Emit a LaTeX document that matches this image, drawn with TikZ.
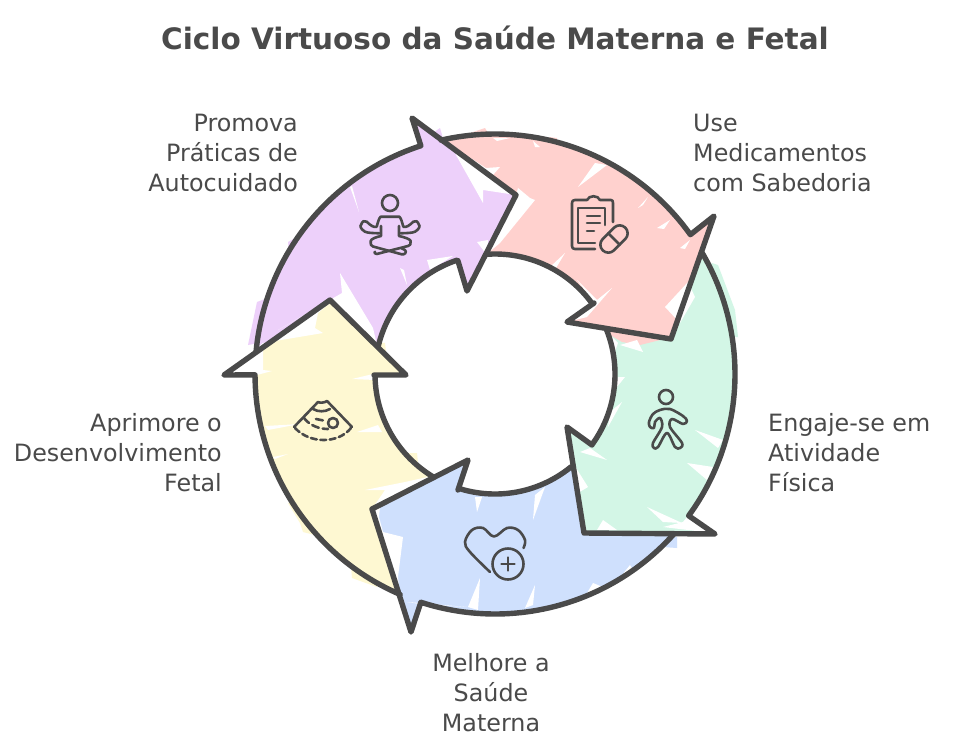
\documentclass[tikz,border=0pt]{standalone}
\usepackage{fontspec}
\setmainfont{DejaVu Sans}
\definecolor{ink}{HTML}{4A4A4A}
\definecolor{fpurple}{HTML}{EDD0FA}
\definecolor{fred}{HTML}{FFD1CE}
\definecolor{fgreen}{HTML}{D3F6E6}
\definecolor{fblue}{HTML}{CFE0FD}
\definecolor{fyellow}{HTML}{FEF8D2}
\newcommand{\Oarc}[2]{plot[domain=#1:#2,samples=50] ({495+240*cos(\x)},{374+240*sin(\x)})}
\newcommand{\Iarc}[2]{-- plot[domain=#1:#2,samples=50] ({495+120*cos(\x)},{374+120*sin(\x)})}
\tikzset{
  x=1pt,y=-1pt,
  outline/.style={draw=ink,line width=5.4pt,line join=round,line cap=round},
  icon/.style={draw=ink,line width=2.6pt,line join=round,line cap=round},
  label/.style={text=ink,inner sep=0pt,font=\fontsize{23.8pt}{30pt}\selectfont},
  heading/.style={text=ink,inner sep=0pt,font=\fontsize{29.5pt}{30pt}\selectfont\bfseries},
  gap/.style={fill=white},
  parrow/.style={insert path={\Oarc{185.5}{252} -- (412,118) -- (516,195) -- (467,291) -- (458,261) \Iarc{251.7}{193.3}}},
  rarrow/.style={insert path={\Oarc{257}{324.5} -- (714,216) -- (671,339) -- (567,322) -- (594,303) \Iarc{324.4}{265.7}}},
  garrow/.style={insert path={\Oarc{329.7}{396.2} -- (715,534) -- (584,533) -- (567,427) -- (592,445) \Iarc{396.2}{338.2}}},
  barrow/.style={insert path={\Oarc{42}{108} -- (411,632) -- (372,509) -- (468,460) -- (458,490) \Iarc{107.7}{50.7}}},
  yarrow/.style={insert path={\Oarc{113.3}{179.8} -- (224,375) -- (330,300) -- (406,375) -- (374,375) \Iarc{179.5}{121.5}}},
}
\begin{document}
\begin{tikzpicture}
\useasboundingbox (0,0) rectangle (960,750);
\fill[white] (0,0) rectangle (960,750);

% colour patches overflowing the outlines
\fill[fpurple] (248,345) -- (257,302) -- (270,297) -- (275,340) -- cycle;
\fill[fpurple] (288,242) -- (295,238) -- (300,260) -- (290,262) -- cycle;
\fill[fpurple] (427,137) -- (440,128) -- (445,145) -- (430,150) -- cycle;
\fill[fpurple] (503,227) -- (498,243) -- (480,240) -- (490,215) -- cycle;
\fill[fred] (470,133) -- (485,128) -- (492,140) -- (475,142) -- cycle;
\fill[fred] (549,137) -- (557,138) -- (557,146) -- cycle;
\fill[fgreen] (712,263) -- (718,265) -- (735,310) -- (738,337) -- (720,337) -- (700,280) -- cycle;
\fill[fgreen] (590,520) -- (587,540) -- (600,536) -- cycle;
\fill[fgreen] (612,535) -- (650,540) -- (660,535) -- cycle;
\fill[fblue] (409,480) -- (420,477) -- (440,490) -- (415,498) -- cycle;
\fill[fblue] (677,537) -- (677,548) -- (663,547) -- (660,535) -- cycle;
\fill[fblue] (553,483) -- (575,490) -- (570,500) -- (545,495) -- cycle;
\fill[fyellow] (351,322) -- (367,323) -- (364,342) -- (385,343) -- (388,370) -- (360,370) -- cycle;
\fill[fyellow] (393,453) -- (417,453) -- (419,473) -- (400,480) -- cycle;
\fill[fyellow] (288,503) -- (300,523) -- (303,532) -- (323,537) -- (310,500) -- cycle;
\fill[fyellow] (351,567) -- (352,578) -- (377,587) -- (385,570) -- cycle;

% arrow bodies
\path[parrow,fill=fpurple] -- (330,300) -- cycle;
\path[yarrow,fill=fyellow] -- (372,509) -- cycle;
\path[barrow,fill=fblue] -- (584,533) -- cycle;
\path[garrow,fill=fgreen] -- (671,339) -- cycle;
\path[rarrow,fill=fred] -- (516,195) -- cycle;
\fill[fred] (605,332) -- (622,342) -- (640,345) -- (672,337) -- (660,325) -- cycle;

% hachure gaps: purple
\fill[gap] (450,143) -- (516,195) -- (483,190) -- (483,203) -- (456,155) -- cycle;
\fill[gap] (278,330) -- (342,293) -- (340,273) -- (373,328) -- (377,345) -- (330,300) -- cycle;
\fill[gap] (477,242) -- (488,240) -- (487,255) -- cycle;
\fill[gap] (427,260) -- (453,256) -- (430,270) -- cycle;
\fill[gap] (400,268) -- (407,285) -- (404,270) -- cycle;
\fill[gap] (350,187) -- (359,212) -- (352,186) -- cycle;
\fill[gap] (278,235) -- (290,227) -- (290,232) -- cycle;
% red
\fill[gap] (578,187) -- (607,165) -- (595,163) -- cycle;
\fill[gap] (638,208) -- (648,197) -- (643,205) -- cycle;
\fill[gap] (657,228) -- (670,220) -- (664,229) -- cycle;
\fill[gap] (680,248) -- (690,240) -- (685,249) -- cycle;
\fill[gap] (665,307) -- (688,282) -- (695,297) -- (680,323) -- cycle;
\fill[gap] (567,322) -- (587,317) -- (612,288) -- (597,300) -- (577,280) -- (594,303) -- cycle;
\fill[gap] (516,195) -- (518,188) -- (530,198) -- (535,200) -- (500,243) -- (488,253) -- cycle;
\fill[gap] (550,267) -- (565,253) -- (556,268) -- cycle;
\fill[gap] (444,141) -- (486,168) -- (500,167) -- (493,175) -- (516,195) -- cycle;
\fill[gap] (493,138) -- (510,138) -- (497,141) -- cycle;
\fill[gap] (533,141) -- (540,147) -- (535,147) -- cycle;
% green
\fill[gap] (605,330) -- (618,343) -- (610,365) -- cycle;
\fill[gap] (620,345) -- (643,352) -- (637,340) -- cycle;
\fill[gap] (618,377) -- (625,377) -- (612,393) -- cycle;
\fill[gap] (608,427) -- (622,402) -- (610,412) -- cycle;
\fill[gap] (695,430) -- (718,448) -- (723,440) -- cycle;
\fill[gap] (687,463) -- (707,480) -- (713,467) -- cycle;
\fill[gap] (647,507) -- (682,523) -- (663,522) -- cycle;
\fill[gap] (687,517) -- (713,533) -- (663,527) -- (683,522) -- cycle;
\fill[gap] (603,520) -- (617,530) -- (597,530) -- cycle;
\fill[gap] (580,452) -- (607,460) -- (590,448) -- cycle;
\fill[gap] (573,463) -- (588,487) -- (578,493) -- cycle;
% blue
\fill[gap] (477,512) -- (482,497) -- (475,497) -- cycle;
\fill[gap] (533,520) -- (545,487) -- (535,495) -- cycle;
\fill[gap] (468,607) -- (480,578) -- (478,610) -- cycle;
\fill[gap] (525,608) -- (535,585) -- (533,605) -- cycle;
\fill[gap] (587,593) -- (593,583) -- (610,590) -- (630,565) -- (637,577) -- (600,600) -- cycle;
\fill[gap] (372,509) -- (380,507) -- (379,517) -- (383,532) -- (403,537) -- (398,577) -- (400,597) -- cycle;
\fill[gap] (407,602) -- (467,607) -- (420,604) -- cycle;
% yellow
\fill[gap] (223,375) -- (255,352) -- (263,343) -- (263,370) -- (272,371) -- (257,375) -- cycle;
\fill[gap] (263,343) -- (323,333) -- (315,328) -- (318,313) -- (330,303) -- (255,350) -- cycle;
\fill[gap] (352,379) -- (373,374) -- (375,380) -- cycle;
\fill[gap] (357,432) -- (378,425) -- (382,432) -- cycle;
\fill[gap] (265,426) -- (300,424) -- (268,430) -- cycle;
\fill[gap] (273,457) -- (288,454) -- (275,459) -- cycle;
\fill[gap] (365,490) -- (405,482) -- (432,476) -- (372,509) -- (385,490) -- cycle;

% outlines
\path[parrow,outline];
\path[yarrow,outline];
\path[barrow,outline];
\path[garrow,outline];
\path[rarrow,outline];

% meditation icon
\draw[icon] (390,203) circle (8);
\draw[icon] (379.3,233.3) .. controls (372,233) and (368,233) .. (365,231.7) .. controls (360,229) and (360,225) .. (361,225) .. controls (362,221) and (365,220) .. (366.7,221.7) .. controls (370,225) and (374,228) .. (376.7,226.7) .. controls (378,222) and (379,218) .. (380.7,216.7) -- (399.3,216.7) .. controls (401,218) and (402,222) .. (403.3,226.7) .. controls (406,228) and (410,225) .. (413.3,221.7) .. controls (415,220) and (418,221) .. (419,225) .. controls (420,225) and (420,229) .. (415,231.7) .. controls (412,233) and (408,233) .. (400.7,233.3);
\draw[icon] (381,226) -- (381,236) .. controls (376,237) and (371,239) .. (370.7,241) .. controls (370,244) and (371,246) .. (373,246.5) -- (401.7,254.3) .. controls (405,255) and (407,252) .. (405,250) -- (401.7,248.3);
\draw[icon] (399,226) -- (399,236) .. controls (404,237) and (410,239) .. (410.7,241) .. controls (411,244) and (410,246) .. (408,246) -- (376.7,254) .. controls (374,254) and (374,252) .. (375,251.7);

% clipboard and pill icon
\draw[icon] (595,249) -- (575,249) .. controls (573,249) and (572,248) .. (572,246) -- (572,203) .. controls (572,201) and (573,200) .. (575,200) -- (587,200) .. controls (589,195) and (598,195) .. (600,200) -- (611,200) .. controls (612.5,200) and (613,201) .. (613,203) -- (613,222);
\draw[icon] (605,225) -- (605,208) -- (578,208) -- (578,243) -- (595,243);
\draw[icon] (587,216) -- (600,216) (587,223) -- (600,223) (587,231) -- (594,231);
\draw[icon,rotate around={45:(614,239)},rounded corners=8pt] (598,231) rectangle (630,247);
\draw[icon,rotate around={45:(614,239)}] (614,231) -- (614,247);

% walker icon
\draw[icon] (666,397) circle (7);
\draw[icon] plot[smooth cycle,tension=0.55] coordinates {(660,410) (670,409) (683,416) (687,421) (683,424) (672,419) (670,427) (682,443) (680,448) (675,447) (667,433) (658,447) (654,448) (653,443) (662,427) (660,418) (655,422) (654,428) (650,427) (649,422) (653,414)};

% heart icon
\draw[icon] plot[smooth,tension=0.6] coordinates {(490,572) (470,552) (465,542) (472,530) (483,528) (494,536.5) (507,528) (518,530) (525,540) (523.5,548)};
\draw[icon] (508,564) circle (15.5);
\draw[icon] (501.5,564) -- (514.5,564) (508,557.5) -- (508,570.5);

% ultrasound icon
\draw[icon] (294,427) -- (318,402) .. controls (320,403) and (324,403) .. (327,401) -- (352,427);
\draw[icon,dash pattern=on 6pt off 3.5pt] (295,428) .. controls (310,444) and (338,444) .. (351,428);
\draw[icon,dash pattern=on 7pt off 4pt] (304,418) .. controls (310,426) and (320,429) .. (328,429);
\draw[icon,dash pattern=on 7pt off 4pt] (316,419) -- (326,421);
\draw[icon] (313,409) .. controls (318,412) and (325,412) .. (330,409);
\draw[icon] (333,423) circle (5);

% texts
\node[heading] (title) at (495,38) {Ciclo Virtuoso da Saúde Materna e Fetal};
\node[label,align=right,anchor=east] (selfcare) at (298,153) {Promova\\Práticas de\\Autocuidado};
\node[label,align=left,anchor=west] (meds) at (693,153) {Use\\Medicamentos\\com Sabedoria};
\node[label,align=left,anchor=west] (activity) at (768,453) {Engaje-se em\\Atividade\\Física};
\node[label,align=right,anchor=east] (fetal) at (222,453) {Aprimore o\\Desenvolvimento\\Fetal};
\node[label,align=center] (maternal) at (491,693) {Melhore a\\Saúde\\Materna};
\end{tikzpicture}
\end{document}
